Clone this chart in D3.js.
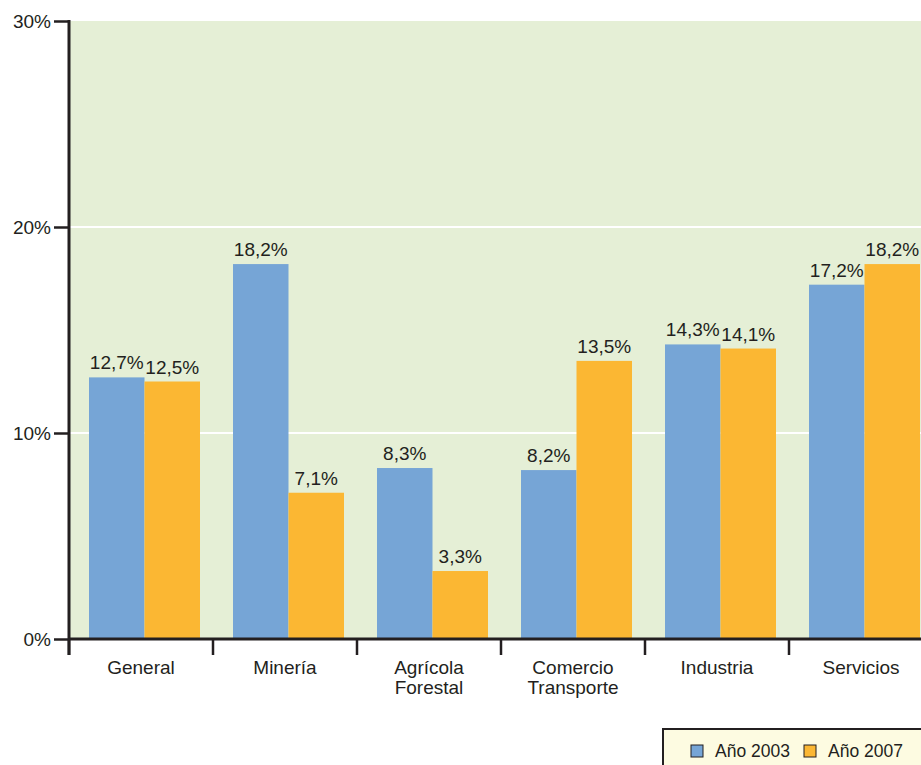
<!DOCTYPE html>
<html><head><meta charset="utf-8">
<script src="https://cdn.jsdelivr.net/npm/d3@7"></script>
<style>body{margin:0;background:#fff;}svg{display:block;font-family:"Liberation Sans",Arial,sans-serif;}</style>
</head><body><svg id="c" width="921" height="765"></svg>
<script>
const categories = [["General"],["Minería"],["Agrícola","Forestal"],["Comercio","Transporte"],["Industria"],["Servicios"]];
const series2003 = [12.7, 18.2, 8.3, 8.2, 14.3, 17.2];
const series2007 = [12.5, 7.1, 3.3, 13.5, 14.1, 18.2];
const yTicks = [0, 10, 20, 30];
const seriesNames = ["Año 2003", "Año 2007"];
const colors = ["#76a5d6", "#fbb733"];

(function () {
const svg = d3.select("#c");
const pL = 69, pR = 933, pT = 21, pB = 639;
const FS = 19;
const x = d3.scaleBand().domain(d3.range(categories.length)).range([pL, pR]).paddingInner(0).paddingOuter(0);
const y = d3.scaleLinear().domain([0, 30]).range([pB, pT]);
const bw = x.bandwidth();
const barW = 55.5, off = 20;

svg.append("rect").attr("x", pL).attr("y", pT).attr("width", pR - pL).attr("height", pB - pT).attr("fill", "#e5efd6");
svg.selectAll(".grid").data(yTicks.filter(d => d > 0 && d < 30)).enter().append("line")
  .attr("x1", pL).attr("x2", pR).attr("y1", d => y(d)).attr("y2", d => y(d))
  .attr("stroke", "#fff").attr("stroke-width", 2);

const data = categories.map((c, i) => ({i, vals: [series2003[i], series2007[i]]}));
const g = svg.selectAll(".cat").data(data).enter().append("g");
g.selectAll("rect").data(d => d.vals.map((v, k) => ({i: d.i, v, k}))).enter().append("rect")
  .attr("x", d => x(d.i) + off + d.k * barW).attr("width", barW)
  .attr("y", d => y(d.v)).attr("height", d => pB - y(d.v)).attr("fill", d => colors[d.k]);
g.selectAll("text").data(d => d.vals.map((v, k) => ({i: d.i, v, k}))).enter().append("text")
  .attr("x", d => x(d.i) + off + d.k * barW + barW / 2).attr("y", d => y(d.v) - 8)
  .attr("text-anchor", "middle").attr("font-size", FS).attr("fill", "#231f20")
  .text(d => d.v.toFixed(1).replace(".", ",") + "%");

const ya = svg.append("g").attr("transform", `translate(${pL},0)`)
  .call(d3.axisLeft(y).tickValues(yTicks).tickSize(15).tickPadding(3).tickFormat(d => d + "%"));
ya.select(".domain").remove();
ya.selectAll("line").attr("stroke", "#231f20").attr("stroke-width", 2.5);
ya.selectAll("text").attr("font-size", FS).attr("fill", "#231f20").attr("font-family", "Liberation Sans, Arial, sans-serif");
svg.append("line").attr("x1", pL).attr("x2", pL).attr("y1", pT - 1).attr("y2", pB + 16).attr("stroke", "#231f20").attr("stroke-width", 3);
svg.append("line").attr("x1", pL).attr("x2", pR).attr("y1", pB).attr("y2", pB).attr("stroke", "#231f20").attr("stroke-width", 3);

svg.selectAll(".xt").data(d3.range(categories.length + 1)).enter().append("line")
  .attr("x1", i => pL + i * bw).attr("x2", i => pL + i * bw).attr("y1", pB).attr("y2", pB + 16)
  .attr("stroke", "#231f20").attr("stroke-width", 2.5);
const xl = svg.selectAll(".xl").data(categories).enter().append("text")
  .attr("x", (d, i) => x(i) + bw / 2).attr("y", pB + 35)
  .attr("text-anchor", "middle").attr("font-size", FS).attr("fill", "#231f20");
xl.selectAll("tspan").data(d => d).enter().append("tspan")
  .attr("x", function() { return d3.select(this.parentNode).attr("x"); })
  .attr("dy", (d, j) => j === 0 ? 0 : 20).text(d => d);

svg.append("rect").attr("x", 663).attr("y", 729).attr("width", 270).attr("height", 50)
  .attr("fill", "#fdfbe1").attr("stroke", "#231f20").attr("stroke-width", 2);
const lx = [691, 804];
seriesNames.forEach((n, k) => {
  svg.append("rect").attr("x", lx[k]).attr("y", 745).attr("width", 12).attr("height", 12)
    .attr("fill", colors[k]).attr("stroke", "#231f20").attr("stroke-width", 1);
  svg.append("text").attr("x", lx[k] + 24).attr("y", 757).attr("font-size", 17.5).attr("fill", "#231f20").text(n);
});
})();
</script></body></html>
